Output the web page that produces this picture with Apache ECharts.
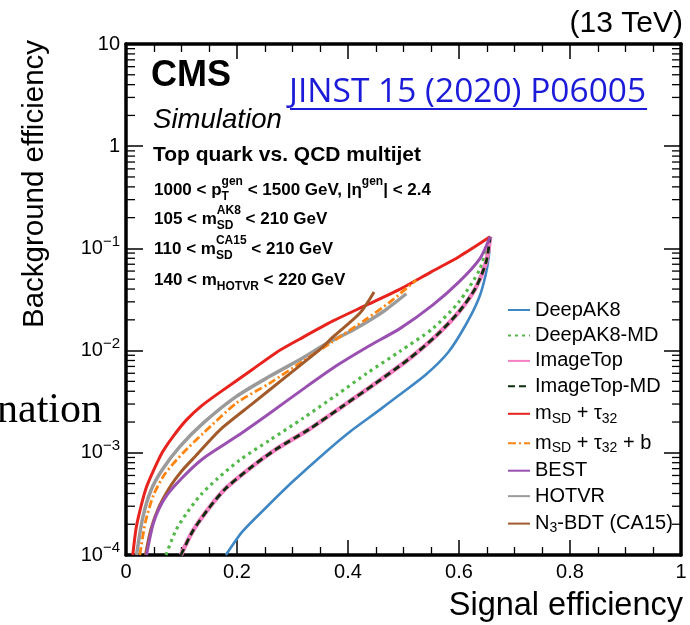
<!DOCTYPE html>
<html>
<head>
<meta charset="utf-8">
<script src="https://cdn.jsdelivr.net/npm/echarts@6/dist/echarts.min.js"></script>
<style>
  html, body { margin: 0; padding: 0; background: #ffffff; }
  #chart { width: 690px; height: 625px; }
</style>
</head>
<body>
<div id="chart"></div>
<script>
// ROC curves: signal efficiency (x) vs background efficiency (y, log scale)
const deepAK8 = [[0.18,1.0e-4],[0.21,1.7e-4],[0.252,2.9e-4],[0.30,5.2e-4],[0.36,1.02e-3],[0.403,1.6e-3],[0.457,2.63e-3],[0.493,3.7e-3],[0.54,5.8e-3],[0.581,9.7e-3],[0.612,1.78e-2],[0.636,3.27e-2],[0.648,5.5e-2],[0.654,8.6e-2],[0.656,0.13]];
const deepAK8MD = [[0.072,1.0e-4],[0.09,1.75e-4],[0.11,2.6e-4],[0.135,3.9e-4],[0.165,5.6e-4],[0.205,8.5e-4],[0.259,1.33e-3],[0.319,2.18e-3],[0.38,3.7e-3],[0.434,6.0e-3],[0.493,9.8e-3],[0.553,1.65e-2],[0.60,3.0e-2],[0.637,6.2e-2],[0.656,0.13]];
const imageTop = [[0.099,1.0e-4],[0.12,1.7e-4],[0.15,2.9e-4],[0.18,4.5e-4],[0.228,7.4e-4],[0.27,1.08e-3],[0.33,1.7e-3],[0.39,2.85e-3],[0.45,4.8e-3],[0.51,8.3e-3],[0.559,1.4e-2],[0.60,2.4e-2],[0.63,4.1e-2],[0.649,7.4e-2],[0.656,0.13]];
const imageTopMD = [[0.099,1.0e-4],[0.12,1.7e-4],[0.15,2.9e-4],[0.18,4.5e-4],[0.228,7.4e-4],[0.27,1.08e-3],[0.33,1.7e-3],[0.39,2.85e-3],[0.45,4.8e-3],[0.51,8.3e-3],[0.559,1.4e-2],[0.60,2.4e-2],[0.63,4.1e-2],[0.649,7.4e-2],[0.656,0.13]];
const msdTau32 = [[0.0122,1.0e-4],[0.018,1.8e-4],[0.025,2.7e-4],[0.035,4.3e-4],[0.045,5.9e-4],[0.065,1.0e-3],[0.085,1.45e-3],[0.109,2.1e-3],[0.135,2.85e-3],[0.169,3.9e-3],[0.229,6.6e-3],[0.271,9.6e-3],[0.3135,1.3e-2],[0.373,1.95e-2],[0.434,2.8e-2],[0.494,4.0e-2],[0.55,5.9e-2],[0.60,8.3e-2],[0.656,0.13]];
const msdTau32b = [[0.025,1.0e-4],[0.035,2.1e-4],[0.05,3.9e-4],[0.07,6.2e-4],[0.103,1.0e-3],[0.139,1.55e-3],[0.199,3.06e-3],[0.259,4.8e-3],[0.319,7.9e-3],[0.37,1.2e-2],[0.434,2.05e-2],[0.476,3.0e-2],[0.523,4.9e-2]];
const best = [[0.037,1.0e-4],[0.05,2.1e-4],[0.07,3.6e-4],[0.10,5.6e-4],[0.139,8.8e-4],[0.199,1.44e-3],[0.259,2.44e-3],[0.319,4.2e-3],[0.379,7.1e-3],[0.434,1.08e-2],[0.494,1.65e-2],[0.553,2.8e-2],[0.60,4.7e-2],[0.638,8.0e-2],[0.656,0.13]];
const hotvr = [[0.019,1.0e-4],[0.03,2.3e-4],[0.045,4.3e-4],[0.065,6.8e-4],[0.097,1.15e-3],[0.139,1.95e-3],[0.199,3.56e-3],[0.259,5.6e-3],[0.319,8.5e-3],[0.361,1.17e-2],[0.41,1.6e-2],[0.463,2.4e-2],[0.505,3.6e-2]];
const n3bdt = [[0.035,1.0e-4],[0.045,1.8e-4],[0.06,3.0e-4],[0.08,4.7e-4],[0.10,6.6e-4],[0.127,9.5e-4],[0.169,1.67e-3],[0.229,3.06e-3],[0.289,5.6e-3],[0.349,1.02e-2],[0.373,1.36e-2],[0.4216,2.33e-2],[0.447,3.75e-2]];

const seriesNames = ['DeepAK8','DeepAK8-MD','ImageTop','ImageTop-MD','mSD+tau32','mSD+tau32+b','BEST','HOTVR','N3-BDT (CA15)'];
const legendLabels = {
  'DeepAK8': 'DeepAK8',
  'DeepAK8-MD': 'DeepAK8-MD',
  'ImageTop': 'ImageTop',
  'ImageTop-MD': 'ImageTop-MD',
  'mSD+tau32': 'm{sub|SD} + τ{sub|32}',
  'mSD+tau32+b': 'm{sub|SD} + τ{sub|32} + b',
  'BEST': 'BEST',
  'HOTVR': 'HOTVR',
  'N3-BDT (CA15)': 'N{sub|3}-BDT (CA15)'
};
const xTickLabels = ['0','0.2','0.4','0.6','0.8','1'];

// minor ticks of the log axis (2..9 in each decade)
const yMinorTicks = [];
for (let e = -4; e < 1; e++) {
  for (let k = 2; k <= 9; k++) yMinorTicks.push(+(k * Math.pow(10, e)).toPrecision(3));
}

const FONT = '"Liberation Sans", Arial, sans-serif';
const chart = echarts.init(document.getElementById('chart'), null, { renderer: 'canvas' });

// text layout helper for annotation lines with sub/superscripts
const mctx = document.createElement('canvas').getContext('2d');
function textWidth(str, font) { mctx.font = font; return mctx.measureText(str).width; }
function textRun(x, y, size, scriptSize, parts) {
  const out = [];
  const mainFont = 'bold ' + size + 'px ' + FONT;
  const scrFont = 'bold ' + scriptSize + 'px ' + FONT;
  let cx = x;
  parts.forEach(p => {
    if (typeof p === 'string') {
      out.push({ type: 'text', x: cx, y: y, style: { text: p, font: mainFont, fill: '#000', align: 'left', verticalAlign: 'middle' } });
      cx += textWidth(p, mainFont);
    } else {
      let w = 0;
      p.forEach(s => {
        out.push({ type: 'text', x: cx, y: y + s.dy, style: { text: s.t, font: scrFont, fill: '#000', align: 'left', verticalAlign: 'middle' } });
        w = Math.max(w, textWidth(s.t, scrFont));
      });
      cx += w;
    }
  });
  return out;
}

function lineSeries(name, data, color, width, type) {
  return {
    name: name, type: 'line', data: data, showSymbol: false, symbol: 'none',
    smooth: 0.25, z: 2, animation: false,
    lineStyle: { color: color, width: width, type: type, cap: 'butt', join: 'round' },
    itemStyle: { color: color }
  };
}

const linkText = 'JINST 15 (2020) P06005';
const linkFont = '33.5px "Open Sans", sans-serif';
const linkW = textWidth(linkText, linkFont);

const graphics = [
  { type: 'text', x: 683, y: 24, style: { text: '(13 TeV)', font: '30px ' + FONT, fill: '#000', align: 'right', verticalAlign: 'middle' } },
  { type: 'text', x: 151, y: 76, style: { text: 'CMS', font: 'bold 36px ' + FONT, fill: '#000', align: 'left', verticalAlign: 'middle' } },
  { type: 'text', x: 153, y: 120, style: { text: 'Simulation', font: 'italic 27.6px ' + FONT, fill: '#000', align: 'left', verticalAlign: 'middle' } },
  { type: 'text', x: 289, y: 92, style: { text: linkText, font: linkFont, fill: '#1a1ad8', align: 'left', verticalAlign: 'middle' } },
  { type: 'line', shape: { x1: 290, y1: 109, x2: 290 + linkW, y2: 109 }, style: { stroke: '#1a1ad8', lineWidth: 2 } },
  { type: 'text', x: 153, y: 155, style: { text: 'Top quark vs. QCD multijet', font: 'bold 21px ' + FONT, fill: '#000', align: 'left', verticalAlign: 'middle' } },
  { type: 'text', x: 102, y: 411, style: { text: 'ination', font: '42px "Liberation Serif", serif', fill: '#000', align: 'right', verticalAlign: 'middle' } },
  { type: 'text', x: 35, y: 184, rotation: Math.PI / 2, style: { text: 'Background efficiency', font: '29.5px ' + FONT, fill: '#000', align: 'center', verticalAlign: 'middle' } },
  { type: 'text', x: 683, y: 606, style: { text: 'Signal efficiency', font: '32.5px ' + FONT, fill: '#000', align: 'right', verticalAlign: 'middle' } }
]
.concat(textRun(154, 190, 17, 12, ['1000 < p', [{ t: 'gen', dy: -8 }, { t: 'T', dy: 7 }], ' < 1500 GeV, |η', [{ t: 'gen', dy: -8 }], '| < 2.4']))
.concat(textRun(154, 219, 17, 12, ['105 < m', [{ t: 'AK8', dy: -8 }, { t: 'SD', dy: 7 }], ' < 210 GeV']))
.concat(textRun(154, 249, 17, 12, ['110 < m', [{ t: 'CA15', dy: -8 }, { t: 'SD', dy: 7 }], ' < 210 GeV']))
.concat(textRun(154, 280, 17, 12, ['140 < m', [{ t: 'HOTVR', dy: 7 }], ' < 220 GeV']));

const axisLineStyle = { color: '#000', width: 3.5 };

const option = {
  animation: false,
  backgroundColor: '#ffffff',
  grid: { left: 126, right: 9, top: 44, bottom: 70, containLabel: false },
  legend: {
    data: seriesNames,
    orient: 'vertical', left: 507, top: 300, padding: 0,
    itemWidth: 22, itemHeight: 14, itemGap: 5.45,
    selectedMode: false,
    itemStyle: { opacity: 0, borderWidth: 0 },
    formatter: n => legendLabels[n],
    textStyle: {
      fontFamily: FONT, fontSize: 20, color: '#000', lineHeight: 20,
      rich: { sub: { fontFamily: FONT, fontSize: 14, color: '#000', lineHeight: 20, padding: [10, 0, 0, 0] } }
    }
  },
  xAxis: [
    {
      type: 'value', position: 'bottom', min: 0, max: 1, interval: 0.2,
      axisLine: { show: true, onZero: false, lineStyle: axisLineStyle },
      axisTick: { show: true, inside: true, length: 15, lineStyle: { color: '#000', width: 1.5 } },
      minorTick: { show: true, splitNumber: 4, length: 8, lineStyle: { color: '#000', width: 1.3 } },
      splitLine: { show: false },
      axisLabel: {
        margin: 7, fontFamily: FONT, fontSize: 20, color: '#000',
        formatter: v => xTickLabels[Math.round(v / 0.2)]
      }
    },
    {
      type: 'value', position: 'top', min: 0, max: 1, interval: 0.2,
      axisLine: { show: true, onZero: false, lineStyle: axisLineStyle },
      axisTick: { show: true, inside: true, length: 15, lineStyle: { color: '#000', width: 1.5 } },
      minorTick: { show: true, splitNumber: 4, length: 8, lineStyle: { color: '#000', width: 1.3 } },
      splitLine: { show: false },
      axisLabel: { show: false }
    }
  ],
  yAxis: [
    {
      type: 'log', logBase: 10, position: 'left', min: 1e-4, max: 10,
      axisLine: { show: true, onZero: false, lineStyle: axisLineStyle },
      axisTick: { show: true, inside: true, length: 17, lineStyle: { color: '#000', width: 1.5 } },
      splitLine: { show: false },
      axisLabel: {
        margin: 6, fontFamily: FONT, fontSize: 20, color: '#000',
        formatter: v => {
          const e = Math.round(Math.log10(v));
          if (e === 1) return '10';
          if (e === 0) return '1';
          return '10{sup|−' + (-e) + '}';
        },
        rich: { sup: { fontFamily: FONT, fontSize: 15, color: '#000', padding: [0, 0, 14, 0] } }
      }
    },
    {
      type: 'log', logBase: 10, position: 'right', min: 1e-4, max: 10,
      axisLine: { show: true, onZero: false, lineStyle: axisLineStyle },
      axisTick: { show: true, inside: true, length: 17, lineStyle: { color: '#000', width: 1.5 } },
      splitLine: { show: false },
      axisLabel: { show: false }
    }
  ],
  series: [
    lineSeries('DeepAK8', deepAK8, '#3f86c5', 2.6, 'solid'),
    lineSeries('DeepAK8-MD', deepAK8MD, '#52b948', 3.2, [3, 4]),
    lineSeries('ImageTop', imageTop, '#f57fc2', 4.5, 'solid'),
    lineSeries('ImageTop-MD', imageTopMD, '#0d2e0d', 2.8, [7, 4]),
    lineSeries('mSD+tau32', msdTau32, '#e8221d', 3, 'solid'),
    lineSeries('HOTVR', hotvr, '#9b9b9b', 3.5, 'solid'),
    lineSeries('mSD+tau32+b', msdTau32b, '#ff8510', 2.8, [8, 3, 2, 3]),
    lineSeries('N3-BDT (CA15)', n3bdt, '#a35a2b', 3, 'solid'),
    lineSeries('BEST', best, '#9a50b1', 3, 'solid'),
    {
      type: 'custom', name: 'yMinorTicks', silent: true, z: 5, clip: false, animation: false,
      xAxisIndex: 0, yAxisIndex: 0,
      data: yMinorTicks.map(v => [0, v]),
      renderItem: (params, api) => {
        const v = api.value(1);
        const l = api.coord([0, v]);
        const r = api.coord([1, v]);
        return {
          type: 'group',
          children: [
            { type: 'line', shape: { x1: l[0], y1: l[1], x2: l[0] + 9, y2: l[1] }, style: { stroke: '#000', lineWidth: 1.3 } },
            { type: 'line', shape: { x1: r[0], y1: r[1], x2: r[0] - 9, y2: r[1] }, style: { stroke: '#000', lineWidth: 1.3 } }
          ]
        };
      }
    }
  ],
  graphic: graphics
};

chart.setOption(option);
</script>
</body>
</html>
